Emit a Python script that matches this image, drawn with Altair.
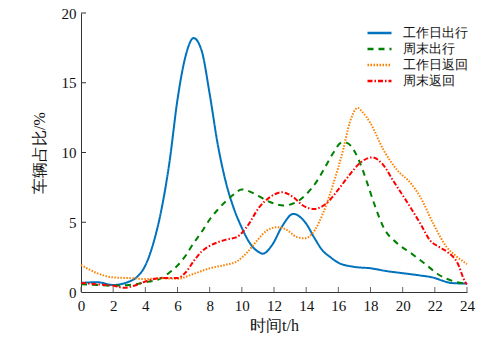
import altair as alt
import pandas as pd

series_names = ["工作日出行", "周末出行", "工作日返回", "周末返回"]
colors = ["#0072BD", "#008000", "#FF8000", "#FF0000"]
dashes = [[1, 0], [6, 5], [1.5, 1.5], [5, 2, 1.5, 2]]

wd_out_h = [0, 1, 2, 3, 3.5, 4, 4.5, 5, 5.5, 6, 6.5, 7, 7.5, 8, 8.5, 9, 9.5, 10, 10.5, 11, 11.3,
            11.9, 12.5, 13.2, 13.6, 14, 14.5, 15, 15.5, 16, 17, 18, 19, 20, 21, 22, 22.5, 23, 24]
wd_out_v = [0.65, 0.7, 0.5, 0.75, 1.1, 1.9, 3.5, 5.9, 9.3, 13.8, 16.9, 18.2, 17.3, 14.2, 10.6, 7.9,
            6.0, 4.6, 3.5, 2.9, 2.75, 3.4, 4.7, 5.6, 5.4, 4.9, 3.9, 3.0, 2.5, 2.1, 1.8, 1.7, 1.5,
            1.35, 1.2, 1.0, 0.8, 0.65, 0.6]

we_out_h = [0, 1, 2, 3, 4, 5, 5.5, 6, 6.5, 7, 7.5, 8, 8.5, 9, 9.5, 10, 10.5, 11, 11.75, 12.6, 13.4,
            14, 14.7, 15.2, 15.7, 16.2, 16.5, 17, 17.5, 17.8, 18.3, 18.8, 19.65, 20.5, 21.3, 22.3,
            23.4, 24]
we_out_v = [0.55, 0.5, 0.45, 0.5, 0.7, 1.0, 1.4, 1.9, 2.6, 3.5, 4.3, 5.2, 5.9, 6.5, 7.0, 7.35, 7.2,
            6.9, 6.45, 6.2, 6.45, 7.0, 8.0, 9.0, 10.0, 10.7, 10.7, 10.1, 8.8, 7.8, 6.1, 4.65, 3.5,
            2.8, 2.1, 1.2, 0.7, 0.6]

wd_ret_h = [0, 1, 2, 3, 4, 5, 6, 7, 8, 9, 9.7, 10.3, 10.95, 11.55, 12.2, 12.8, 13.4, 13.9, 14.55,
            15.05, 15.7, 16.3, 16.7, 17.2, 17.5, 18, 18.8, 19.65, 20.5, 21.1, 21.9, 22.75, 23.4, 24]
wd_ret_v = [1.95, 1.35, 1.05, 1.0, 0.93, 0.98, 0.95, 1.3, 1.7, 1.95, 2.2, 2.8, 3.7, 4.4, 4.65, 4.45,
            3.95, 3.85, 4.45, 5.65, 7.8, 10.2, 12.1, 13.2, 12.9, 12.1, 10.2, 8.75, 7.8, 6.8, 4.9,
            3.2, 2.5, 2.0]

we_ret_h = [0, 1, 2, 2.7, 3.3, 4, 5, 6, 6.5, 7, 7.5, 8, 9, 9.7, 10.3, 11.1, 11.75, 12.5, 13.2, 13.8,
            14.5, 15.3, 16.1, 16.7, 17.35, 18.1, 18.8, 19.4, 20.3, 21.1, 21.7, 22.3, 22.8, 23.4,
            23.9, 24]
we_ret_v = [0.65, 0.55, 0.45, 0.3, 0.45, 0.75, 1.0, 1.0, 1.4, 2.2, 2.9, 3.3, 3.75, 3.95, 4.65, 6.1,
            6.8, 7.15, 6.8, 6.2, 5.95, 6.4, 7.5, 8.4, 9.25, 9.65, 9.1, 8.0, 6.4, 4.9, 3.7, 3.2,
            2.85, 2.1, 0.7, 0.55]

x_ticks = list(range(0, 25, 2))
y_ticks = [0, 5, 10, 15, 20]

rows = []
for name, hs, vs in zip(series_names,
                        [wd_out_h, we_out_h, wd_ret_h, we_ret_h],
                        [wd_out_v, we_out_v, wd_ret_v, we_ret_v]):
    for h, v in zip(hs, vs):
        rows.append({"series": name, "t": h, "v": v})
df = pd.DataFrame(rows)

FONT = "Times New Roman, Times, DejaVu Serif, serif"
W, H = 386, 279

xscale = alt.Scale(domain=[0, 24], nice=False, zero=False)
yscale = alt.Scale(domain=[0, 20], nice=False)

xaxis = alt.Axis(values=x_ticks, title="时间t/h", ticks=False, labelPadding=6,
                 labelFontSize=15, titleFontSize=16, titlePadding=4, grid=False,
                 labelOverlap=False, labelFlush=False,
                 domainColor="#333", labelColor="#111", titleColor="#111",
                 labelFont=FONT, titleFont=FONT, titleFontWeight="normal")
yaxis = alt.Axis(values=y_ticks, title="车辆占比/%", ticks=False, labelPadding=5,
                 labelFontSize=15, titleFontSize=16, titlePadding=14, grid=False,
                 labelOverlap=False, labelFlush=False,
                 domainColor="#333", labelColor="#111", titleColor="#111",
                 labelFont=FONT, titleFont=FONT, titleFontWeight="normal")

lines = alt.Chart(df).mark_line(strokeWidth=2, interpolate="monotone").encode(
    x=alt.X("t:Q", scale=xscale, axis=xaxis),
    y=alt.Y("v:Q", scale=yscale, axis=yaxis),
    color=alt.Color("series:N", scale=alt.Scale(domain=series_names, range=colors),
                    sort=series_names,
                    legend=alt.Legend(title=None, orient="none", legendX=285, legendY=12,
                                      symbolType="stroke", symbolSize=576, symbolStrokeWidth=2.5,
                                      labelFontSize=13, labelFont=FONT, labelColor="#111",
                                      clipHeight=16, rowPadding=0, labelOffset=10)),
    strokeDash=alt.StrokeDash("series:N", scale=alt.Scale(domain=series_names, range=dashes),
                              sort=series_names, legend=None),
    detail="series:N",
)

xt = pd.DataFrame({"t": x_ticks})
yt = pd.DataFrame({"v": y_ticks[1:]})
xtick_marks = alt.Chart(xt).mark_rule(color="#666", strokeWidth=1).encode(
    x=alt.X("t:Q", scale=xscale, axis=xaxis), y=alt.value(H), y2=alt.value(H - 5))
ytick_marks = alt.Chart(yt).mark_rule(color="#333", strokeWidth=1).encode(
    y=alt.Y("v:Q", scale=yscale, axis=yaxis), x=alt.value(0), x2=alt.value(5))

chart = alt.layer(lines, xtick_marks, ytick_marks).properties(
    width=W, height=H,
    autosize=alt.AutoSizeParams(type="none"),
    padding={"left": 81, "top": 13, "right": 33, "bottom": 50},
    background="white",
).configure(font=FONT).configure_axis(labelFont=FONT, titleFont=FONT).configure_legend(
    labelFont=FONT).configure_view(stroke=None)

chart.save("out.html", embed_options={"renderer": "svg", "actions": False})
